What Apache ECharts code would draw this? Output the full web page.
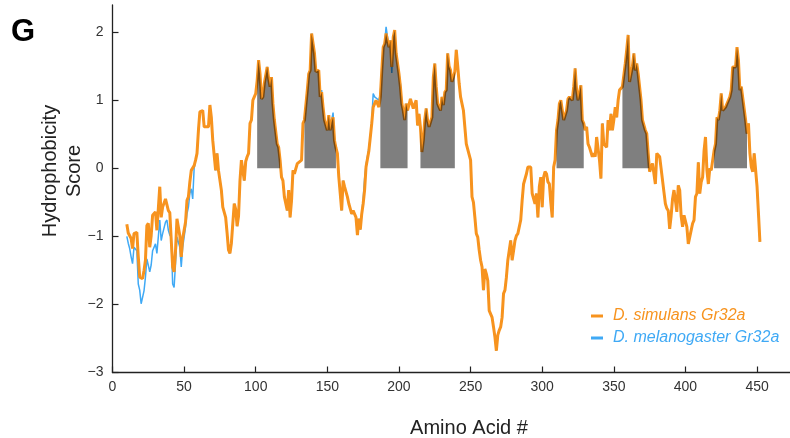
<!DOCTYPE html>
<html><head><meta charset="utf-8">
<script src="https://cdn.jsdelivr.net/npm/echarts@6/dist/echarts.min.js"></script>
<style>html,body{margin:0;padding:0;background:#fff}#c{width:790px;height:438px}</style>
</head><body><div id="c"></div>
<script>
const seriesNames = ['D. simulans Gr32a', 'D. melanogaster Gr32a'];
const xTicks = [0, 50, 100, 150, 200, 250, 300, 350, 400, 450];
const yTicks = [-3, -2, -1, 0, 1, 2];
const tmRanges = [[101,117],[134,156],[187,206],[215,239],[310,329],[356,375],[420,443]];

const simulans = [
[10,-0.82],[11,-0.95],[12,-0.99],[13,-1.03],[14,-1.18],[15,-0.96],[17,-0.94],[18,-1.30],[19,-1.60],[20,-1.62],
[21,-1.62],[22,-1.50],[23,-1.35],[24,-0.84],[25,-0.81],[26,-1.16],[27,-0.99],[28,-0.69],[30,-0.64],[31,-0.91],
[33,-0.27],[34,-0.72],[35,-0.57],[37,-0.45],[38,-0.45],[39,-0.62],[40,-0.65],[41,-0.67],[42,-1.45],[43,-1.52],
[44,-1.21],[45,-0.74],[47,-0.99],[48,-1.30],[49,-1.03],[51,-0.79],[52,-0.47],[53,-0.42],[54,-0.20],[55,-0.03],
[56,-0.03],[57,0.04],[58,0.12],[59,0.22],[60,0.56],[61,0.83],[63,0.85],[64,0.61],[67,0.61],[68,0.93],
[69,0.75],[70,0.41],[71,0.19],[72,-0.03],[73,0.22],[74,-0.03],[76,-0.32],[77,-0.57],[79,-0.72],[80,-0.95],
[81,-1.20],[82,-1.25],[83,-1.10],[85,-0.52],[86,-0.60],[87,-0.85],[88,-0.70],[89,-0.18],[90,0.12],[91,0.12],
[92,-0.18],[93,0.10],[94,0.17],[95,0.22],[96,0.66],[97,0.71],[98,1.00],[99,1.05],[100,1.10],[101,1.29],
[102,1.59],[103,1.39],[104,1.02],[105,1.05],[106,1.25],[108,1.49],[109,1.32],[110,1.20],[111,1.34],[112,0.95],
[113,0.71],[115,0.36],[116,0.31],[117,0.12],[118,-0.13],[119,-0.18],[120,-0.42],[122,-0.62],[123,-0.32],[124,-0.72],
[125,-0.47],[126,-0.03],[127,-0.08],[129,0.07],[132,0.12],[133,0.66],[134,0.71],[136,1.15],[137,1.39],[138,1.44],
[139,1.98],[140,2.00],[141,1.69],[142,1.42],[144,1.44],[145,1.05],[146,1.12],[147,0.90],[148,0.71],[150,0.56],
[151,0.78],[152,0.56],[153,0.68],[154,0.75],[155,0.41],[156,0.30],[157,0.22],[158,-0.13],[159,-0.37],[160,-0.62],
[161,-0.18],[162,-0.27],[164,-0.42],[165,-0.52],[166,-0.50],[167,-0.67],[168,-0.62],[170,-0.72],[171,-0.98],[172,-0.74],
[173,-0.90],[174,-0.67],[175,-0.52],[176,-0.32],[177,0.02],[179,0.26],[180,0.46],[181,0.66],[182,0.90],[183,0.95],
[184,1.00],[186,0.90],[187,1.05],[188,1.44],[189,1.78],[190,1.83],[191,1.98],[193,1.78],[194,1.88],[195,1.49],
[196,1.93],[197,2.03],[198,1.69],[200,1.39],[201,1.20],[202,0.95],[203,0.85],[204,0.71],[205,0.95],[206,0.85],
[208,1.02],[209,0.95],[210,0.88],[212,1.00],[213,0.63],[214,0.80],[215,0.60],[216,0.24],[217,0.41],[218,0.71],
[219,0.88],[220,0.70],[221,0.61],[222,0.62],[223,0.75],[224,1.34],[225,1.54],[226,1.20],[227,0.95],[229,0.85],
[230,1.05],[231,0.93],[232,1.12],[233,1.15],[234,1.69],[235,1.50],[236,1.44],[237,1.27],[238,1.34],[239,1.42],
[240,1.74],[241,1.51],[242,1.25],[243,1.05],[244,1.07],[245,0.85],[246,0.83],[247,0.36],[248,0.36],[250,0.12],
[251,-0.42],[252,-0.50],[253,-0.72],[254,-0.96],[255,-1.01],[256,-1.20],[257,-1.35],[258,-1.45],[259,-1.79],[260,-1.48],
[261,-1.55],[262,-1.65],[263,-2.09],[265,-2.19],[266,-2.33],[267,-2.48],[268,-2.68],[269,-2.45],[270,-2.38],[271,-2.33],
[272,-2.19],[273,-1.84],[274,-1.79],[275,-1.60],[276,-1.35],[278,-1.06],[279,-1.35],[280,-1.21],[281,-1.06],[282,-0.99],
[283,-0.96],[285,-0.76],[286,-0.47],[287,-0.23],[289,-0.08],[290,0.02],[292,0.02],[293,-0.37],[294,-0.35],[295,-0.52],
[296,-0.37],[297,-0.72],[298,-0.27],[299,-0.13],[300,-0.57],[301,-0.13],[302,-0.05],[303,-0.08],[304,-0.20],[305,-0.23],
[306,-0.50],[307,-0.72],[308,0.02],[309,0.12],[310,0.56],[311,0.71],[312,0.95],[313,1.00],[314,1.02],[315,0.71],
[316,0.71],[317,0.85],[318,1.02],[319,1.05],[320,1.03],[321,1.00],[322,1.20],[323,1.47],[324,1.15],[325,1.00],
[327,1.22],[328,0.71],[329,0.66],[330,0.56],[331,0.61],[332,0.36],[333,0.31],[335,0.17],[336,0.22],[337,0.17],
[338,0.46],[339,0.46],[340,0.12],[341,-0.15],[342,0.66],[343,0.36],[345,0.31],[346,0.71],[347,0.56],[348,0.80],
[349,0.56],[350,0.71],[351,0.90],[352,0.75],[353,1.00],[354,1.15],[356,1.20],[357,1.22],[358,1.54],[359,1.74],
[360,1.96],[361,1.27],[362,1.27],[363,1.50],[364,1.69],[365,1.44],[366,1.54],[367,1.39],[368,1.37],[369,1.00],
[370,0.71],[371,0.71],[372,0.56],[373,0.51],[374,0.22],[375,-0.05],[377,0.07],[379,-0.23],[380,0.22],[381,0.24],
[382,0.17],[383,0.00],[385,-0.35],[386,-0.52],[387,-0.59],[388,-0.62],[389,-0.89],[390,-0.70],[391,-0.45],[392,-0.32],
[393,-0.47],[394,-0.64],[395,-0.25],[396,-0.32],[397,-0.70],[398,-0.86],[399,-0.69],[400,-0.67],[401,-0.86],[402,-1.11],
[403,-1.01],[405,-0.81],[406,-0.76],[407,-0.42],[408,-0.37],[409,0.09],[410,-0.37],[411,-0.20],[412,-0.13],[413,0.26],
[414,0.46],[415,-0.03],[416,-0.23],[417,0.00],[418,-0.03],[420,0.26],[421,0.36],[422,0.75],[423,0.71],[424,0.85],
[425,1.10],[426,0.85],[428,0.90],[430,1.00],[431,1.05],[432,1.15],[433,1.49],[435,1.49],[436,1.78],[437,1.59],
[438,1.15],[439,1.20],[440,1.22],[442,0.71],[443,0.51],[444,0.66],[445,0.22],[446,0.02],[447,-0.05],[448,0.22],
[449,0.22],[450,-0.27],[451,-0.67],[452,-1.08]
];

const melanogaster = [
[10,-1.00],[11,-1.10],[12,-1.18],[13,-1.30],[14,-1.40],[15,-1.16],[17,-1.21],[18,-1.70],[19,-1.79],[20,-1.99],
[21,-1.99],[22,-1.80],[23,-1.60],[24,-1.33],[25,-1.35],[26,-1.52],[27,-1.42],[28,-1.21],[30,-1.11],[31,-1.25],
[33,-0.76],[34,-1.06],[35,-0.96],[37,-0.79],[38,-0.76],[39,-0.91],[40,-0.98],[41,-1.01],[42,-1.70],[43,-1.75],
[44,-1.40],[45,-1.01],[47,-1.16],[48,-1.45],[49,-1.16],[51,-0.86],[52,-0.67],[53,-0.57],[54,-0.37],[55,-0.30],
[56,-0.45],[57,0.00],[58,0.12],[59,0.22],[60,0.56],[61,0.83],[63,0.85],[64,0.61],[67,0.61],[68,0.93],
[69,0.75],[70,0.41],[71,0.19],[72,-0.03],[73,0.22],[74,-0.03],[76,-0.32],[77,-0.57],[79,-0.72],[80,-0.95],
[81,-1.20],[82,-1.25],[83,-1.10],[85,-0.52],[86,-0.60],[87,-0.85],[88,-0.70],[89,-0.18],[90,0.12],[91,0.12],
[92,-0.18],[93,0.10],[94,0.17],[95,0.22],[96,0.66],[97,0.71],[98,1.00],[99,1.05],[100,1.10],[101,1.29],
[102,1.59],[103,1.39],[104,1.02],[105,1.05],[106,1.25],[108,1.49],[109,1.32],[110,1.20],[111,1.34],[112,0.95],
[113,0.71],[115,0.36],[116,0.31],[117,0.12],[118,-0.13],[119,-0.18],[120,-0.42],[122,-0.62],[123,-0.32],[124,-0.72],
[125,-0.47],[126,-0.03],[127,-0.08],[129,0.07],[132,0.12],[133,0.66],[134,0.71],[136,1.15],[137,1.39],[138,1.44],
[139,1.98],[140,2.00],[141,1.69],[142,1.42],[144,1.44],[145,1.05],[146,1.15],[147,0.90],[148,0.71],[150,0.56],
[151,0.78],[152,0.56],[153,0.70],[154,0.82],[155,0.41],[156,0.30],[157,0.22],[158,-0.13],[159,-0.37],[160,-0.62],
[161,-0.18],[162,-0.27],[164,-0.42],[165,-0.52],[166,-0.50],[167,-0.67],[168,-0.62],[170,-0.72],[171,-0.98],[172,-0.74],
[173,-0.90],[174,-0.67],[175,-0.45],[176,-0.15],[177,0.05],[179,0.30],[180,0.46],[181,0.70],[182,1.10],[183,1.05],
[184,1.05],[186,1.00],[187,1.10],[188,1.44],[189,1.78],[190,1.83],[191,2.08],[193,1.78],[194,1.88],[195,1.40],
[196,1.93],[197,2.03],[198,1.69],[200,1.39],[201,1.25],[202,0.95],[203,0.85],[204,0.71],[205,0.95],[206,0.85],
[208,1.02],[209,0.95],[210,0.88],[212,1.00],[213,0.63],[214,0.80],[215,0.60],[216,0.24],[217,0.41],[218,0.71],
[219,0.88],[220,0.70],[221,0.61],[222,0.62],[223,0.75],[224,1.34],[225,1.54],[226,1.20],[227,0.95],[229,0.85],
[230,1.05],[231,0.93],[232,1.12],[233,1.15],[234,1.69],[235,1.50],[236,1.44],[237,1.27],[238,1.34],[239,1.42],
[240,1.74],[241,1.51],[242,1.25],[243,1.05],[244,1.07],[245,0.85],[246,0.83],[247,0.36],[248,0.36],[250,0.12],
[251,-0.42],[252,-0.50],[253,-0.72],[254,-0.96],[255,-1.01],[256,-1.20],[257,-1.35],[258,-1.45],[259,-1.79],[260,-1.48],
[261,-1.55],[262,-1.65],[263,-2.09],[265,-2.19],[266,-2.33],[267,-2.48],[268,-2.68],[269,-2.45],[270,-2.38],[271,-2.33],
[272,-2.19],[273,-1.84],[274,-1.79],[275,-1.60],[276,-1.35],[278,-1.06],[279,-1.35],[280,-1.21],[281,-1.06],[282,-0.99],
[283,-0.96],[285,-0.76],[286,-0.47],[287,-0.23],[289,-0.08],[290,0.02],[292,0.02],[293,-0.37],[294,-0.35],[295,-0.52],
[296,-0.37],[297,-0.72],[298,-0.27],[299,-0.13],[300,-0.57],[301,-0.13],[302,-0.05],[303,-0.08],[304,-0.20],[305,-0.23],
[306,-0.50],[307,-0.72],[308,0.02],[309,0.12],[310,0.56],[311,0.71],[312,0.95],[313,1.00],[314,1.02],[315,0.71],
[316,0.71],[317,0.85],[318,1.02],[319,1.05],[320,1.03],[321,1.00],[322,1.20],[323,1.47],[324,1.15],[325,1.00],
[327,1.22],[328,0.71],[329,0.66],[330,0.56],[331,0.61],[332,0.36],[333,0.31],[335,0.17],[336,0.22],[337,0.17],
[338,0.46],[339,0.46],[340,0.12],[341,-0.15],[342,0.66],[343,0.36],[345,0.31],[346,0.71],[347,0.56],[348,0.80],
[349,0.56],[350,0.71],[351,0.90],[352,0.75],[353,1.00],[354,1.15],[356,1.20],[357,1.22],[358,1.54],[359,1.74],
[360,1.96],[361,1.27],[362,1.27],[363,1.50],[364,1.69],[365,1.44],[366,1.54],[367,1.39],[368,1.37],[369,1.00],
[370,0.71],[371,0.71],[372,0.56],[373,0.51],[374,0.22],[375,-0.05],[377,0.07],[379,-0.23],[380,0.22],[381,0.24],
[382,0.17],[383,0.00],[385,-0.35],[386,-0.52],[387,-0.59],[388,-0.62],[389,-0.89],[390,-0.70],[391,-0.45],[392,-0.32],
[393,-0.47],[394,-0.64],[395,-0.25],[396,-0.32],[397,-0.70],[398,-0.86],[399,-0.69],[400,-0.67],[401,-0.86],[402,-1.11],
[403,-1.01],[405,-0.81],[406,-0.76],[407,-0.42],[408,-0.37],[409,0.09],[410,-0.37],[411,-0.20],[412,-0.13],[413,0.26],
[414,0.46],[415,-0.03],[416,-0.23],[417,0.00],[418,-0.03],[420,0.26],[421,0.36],[422,0.75],[423,0.71],[424,0.85],
[425,1.10],[426,0.85],[428,0.90],[430,1.00],[431,1.05],[432,1.15],[433,1.49],[435,1.49],[436,1.78],[437,1.59],
[438,1.15],[439,1.20],[440,1.22],[442,0.71],[443,0.51],[444,0.66],[445,0.22],[446,0.02],[447,-0.05],[448,0.22],
[449,0.22],[450,-0.27],[451,-0.67],[452,-1.08]
];

const ORANGE = '#F7931E';
const BLUE = '#3FA9F5';
const FONT = '"Liberation Sans", Arial, sans-serif';

const tmSeries = tmRanges.map(function (r, i) {
  return {
    type: 'line',
    name: 'TM' + (i + 1),
    data: simulans.filter(function (p) { return p[0] >= r[0] && p[0] <= r[1]; }),
    showSymbol: false,
    symbol: 'none',
    silent: true,
    lineStyle: { opacity: 0, width: 0 },
    areaStyle: { color: 'rgba(0,0,0,0.5)', origin: 0, opacity: 1 },
    z: 5
  };
});

const chart = echarts.init(document.getElementById('c'), null, { renderer: 'canvas' });
chart.setOption({
  animation: false,
  backgroundColor: '#fff',
  grid: { left: 112.5, right: 0, top: 5, bottom: 65.5, containLabel: false },
  legend: {
    left: 586, top: 303, orient: 'vertical',
    itemWidth: 12, itemHeight: 3, itemGap: 6, icon: 'rect',
    data: [
      { name: seriesNames[0], textStyle: { color: ORANGE } },
      { name: seriesNames[1], textStyle: { color: BLUE } }
    ],
    textStyle: { fontSize: 16, fontStyle: 'italic', fontFamily: FONT, padding: [0, 0, 0, 5] },
    selectedMode: false
  },
  xAxis: {
    type: 'value', min: 0, max: 473,
    axisLine: { show: true, onZero: false, lineStyle: { color: '#222', width: 1.3 } },
    axisTick: { show: true, inside: true, length: 6, customValues: xTicks, lineStyle: { color: '#222', width: 1.2 } },
    axisLabel: { customValues: xTicks, fontSize: 14, color: '#333', margin: 8, fontFamily: FONT },
    splitLine: { show: false }
  },
  yAxis: {
    type: 'value', min: -3, max: 2.4,
    axisLine: { show: true, onZero: false, lineStyle: { color: '#222', width: 1.3 } },
    axisTick: { show: true, inside: true, length: 6, customValues: yTicks, lineStyle: { color: '#222', width: 1.2 } },
    axisLabel: {
      customValues: yTicks, fontSize: 14, color: '#333', margin: 9, fontFamily: FONT,
      formatter: function (v) { return String(v).replace('-', '\u2212'); }
    },
    splitLine: { show: false }
  },
  graphic: [
    { type: 'text', x: 23, y: 32, style: { text: 'G', font: 'bold 31px ' + FONT, fill: '#000', align: 'center', verticalAlign: 'middle' } },
    { type: 'text', x: 62, y: 171, rotation: Math.PI / 2, style: { text: 'Hydrophobicity\nScore', font: '20px ' + FONT, fill: '#222', align: 'center', verticalAlign: 'middle', lineHeight: 24 } },
    { type: 'text', x: 469, y: 428, style: { text: 'Amino Acid #', font: '20px ' + FONT, fill: '#222', align: 'center', verticalAlign: 'middle' } }
  ],
  series: [
    {
      type: 'line', name: seriesNames[1], data: melanogaster,
      showSymbol: false, symbol: 'none', color: BLUE,
      lineStyle: { color: BLUE, width: 1.5 }, z: 2
    },
    {
      type: 'line', name: seriesNames[0], data: simulans,
      showSymbol: false, symbol: 'none', color: ORANGE,
      lineStyle: { color: ORANGE, width: 3 }, z: 3
    }
  ].concat(tmSeries)
});
</script>
</body></html>
